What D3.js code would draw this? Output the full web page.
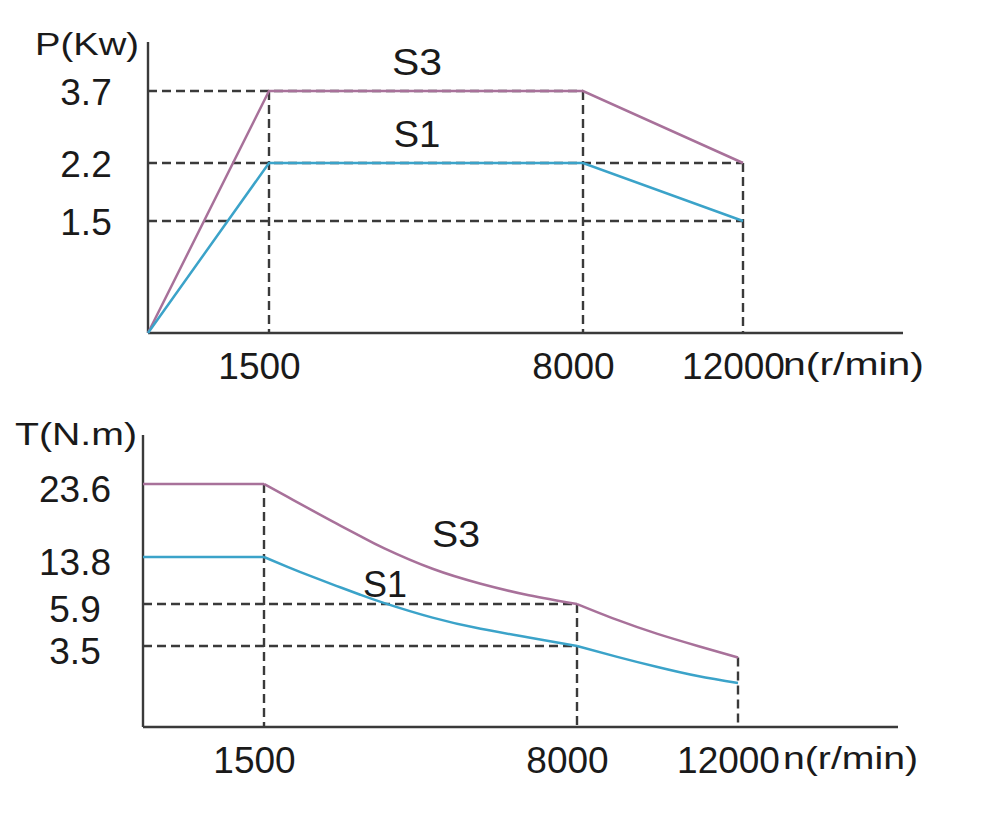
<!DOCTYPE html>
<html>
<head>
<meta charset="utf-8">
<script src="https://cdn.jsdelivr.net/npm/d3@7/dist/d3.min.js"></script>
<style>
  html, body { margin: 0; padding: 0; background: #fff; }
  svg { display: block; font-family: "Liberation Sans", Arial, sans-serif; }
</style>
</head>
<body>
<svg id="chart" width="1000" height="835"></svg>
<script>
// ---------- data ----------
const speedBreaks = [0, 1500, 8000, 12000];          // r/min (schematic axis breakpoints)
const speedTicks = [1500, 8000, 12000];
const powerTicks = [1.5, 2.2, 3.7];                  // kW
const torqueTicks = [3.5, 5.9, 13.8, 23.6];          // N.m

const powerSpeed = [0, 1500, 8000, 12000];
const powerS3 = [0, 3.7, 3.7, 2.2];
const powerS1 = [0, 2.2, 2.2, 1.5];

const torqueSpeed = [0, 1500, 2000, 2500, 3000, 3500, 4000, 5000, 6000, 7000, 8000, 9000, 10000, 11000, 12000];
const torqueS3 = [23.6, 23.6, 21.83, 20.06, 18.31, 16.61, 14.96, 11.82, 9.31, 7.36, 5.9, 4.99, 4.19, 3.5, 3.0];
const torqueS1 = [13.8, 13.8, 12.10, 10.49, 8.96, 7.46, 6.05, 5.12, 4.48, 3.99, 3.5, 3.03, 2.59, 2.20, 1.9];

const seriesNames = ["S3", "S1"];

// ---------- styles ----------
const C_S3 = "#a8719a";
const C_S1 = "#3ba3c9";
const C_AX = "#3a3a3a";
const DASH = "9,5";

const svg = d3.select("#chart");

function drawPanel(cfg) {
  const g = svg.append("g");
  const x = d3.scaleLinear().domain(speedBreaks).range(cfg.xRange);
  const y = d3.scaleLinear().domain(cfg.yDomain).range(cfg.yRange);
  const x0 = x(0), y0 = y(0);

  // dashed guides
  const dash = g.append("g").attr("stroke", C_AX).attr("stroke-width", 2.4)
    .attr("stroke-dasharray", DASH).attr("fill", "none");
  cfg.hGuides.forEach(([v, toX]) => {
    dash.append("line").attr("x1", x0).attr("x2", x(toX)).attr("y1", y(v)).attr("y2", y(v));
  });
  cfg.vGuides.forEach(([s, fromV]) => {
    dash.append("line").attr("x1", x(s)).attr("x2", x(s)).attr("y1", y(fromV)).attr("y2", y0);
  });

  // axes lines
  g.append("line").attr("x1", x0).attr("x2", x0).attr("y1", cfg.yTop).attr("y2", y0)
    .attr("stroke", C_AX).attr("stroke-width", 2.4);
  g.append("line").attr("x1", x0).attr("x2", cfg.xEnd).attr("y1", y0).attr("y2", y0)
    .attr("stroke", C_AX).attr("stroke-width", 2.4);

  // x tick labels via d3 axis
  const xa = g.append("g").attr("transform", `translate(0,${y0})`)
    .call(d3.axisBottom(x).tickValues(speedTicks).tickSize(0).tickFormat(d3.format("d")));
  xa.select(".domain").remove();
  xa.selectAll("text").attr("font-size", 37).attr("fill", "#1a1a1a")
    .attr("font-family", "Liberation Sans, Arial, sans-serif")
    .attr("dx", -10).attr("dy", 0).attr("y", 46).attr("dominant-baseline", "auto");

  // y tick labels via d3 axis
  const ya = g.append("g").attr("transform", `translate(${x0},0)`)
    .call(d3.axisLeft(y).tickValues(cfg.yTicks).tickSize(0).tickFormat(d3.format(".1f")));
  ya.select(".domain").remove();
  ya.selectAll("text").attr("font-size", 37).attr("fill", "#1a1a1a")
    .attr("font-family", "Liberation Sans, Arial, sans-serif")
    .attr("text-anchor", "middle").attr("x", cfg.yLabelX - x0).attr("dy", 0)
    .attr("y", cfg.yLabelDy).attr("dominant-baseline", "central");

  // axis titles
  g.append("text").attr("x", cfg.yTitle[0]).attr("y", cfg.yTitle[1])
    .attr("font-size", 32).attr("fill", "#1a1a1a")
    .attr("textLength", cfg.yTitle[2]).attr("lengthAdjust", "spacingAndGlyphs")
    .text(cfg.yTitleText);
  g.append("text").attr("x", cfg.xTitle[0]).attr("y", cfg.xTitle[1])
    .attr("font-size", 32).attr("fill", "#1a1a1a")
    .attr("textLength", cfg.xTitle[2]).attr("lengthAdjust", "spacingAndGlyphs")
    .text("n(r/min)");

  // series lines
  cfg.series.forEach(s => {
    const pts = cfg.xs.map((v, i) => [v, s.values[i]]);
    const lin = d3.line().x(d => x(d[0])).y(d => y(d[1]));
    if (cfg.curved) {
      const smooth = d3.line().x(d => x(d[0])).y(d => y(d[1])).curve(d3.curveNatural);
      const i1500 = cfg.xs.indexOf(1500), i8000 = cfg.xs.indexOf(8000);
      const parts = [
        lin(pts.slice(0, i1500 + 1)),
        smooth(pts.slice(i1500, i8000 + 1)),
        smooth(pts.slice(i8000))
      ];
      parts.forEach(d => g.append("path").attr("d", d).attr("fill", "none")
        .attr("stroke", s.color).attr("stroke-width", 2.5).attr("stroke-linejoin", "round"));
    } else {
      g.append("path").attr("d", lin(pts)).attr("fill", "none")
        .attr("stroke", s.color).attr("stroke-width", 2.5);
    }
  });

  // series labels
  cfg.series.forEach(s => {
    g.append("text").attr("x", s.label[0]).attr("y", s.label[1])
      .attr("text-anchor", "middle").attr("font-size", 37).attr("fill", "#1a1a1a")
      .attr("textLength", s.label[2]).attr("lengthAdjust", "spacingAndGlyphs")
      .text(s.name);
  });
}

// ---------- top: power ----------
drawPanel({
  xRange: [148, 269, 583, 743], xEnd: 903,
  yDomain: [0, 1.5, 2.2, 3.7], yRange: [333, 221, 163, 91], yTop: 42,
  yTicks: powerTicks, yLabelX: 86, yLabelDy: 1,
  hGuides: [[3.7, 8000], [2.2, 12000], [1.5, 12000]],
  vGuides: [[1500, 3.7], [8000, 3.7], [12000, 2.2]],
  yTitle: [35, 55, 104], yTitleText: "P(Kw)",
  xTitle: [783, 375, 141],
  xs: powerSpeed, curved: false,
  series: [
    { name: seriesNames[0], values: powerS3, color: C_S3, label: [417, 75, 50] },
    { name: seriesNames[1], values: powerS1, color: C_S1, label: [417, 147, 47] }
  ]
});

// ---------- bottom: torque ----------
drawPanel({
  xRange: [143, 264, 577, 738], xEnd: 898,
  yDomain: [0, 3.5, 5.9, 13.8, 23.6], yRange: [727, 646, 604, 557, 484], yTop: 435,
  yTicks: torqueTicks, yLabelX: 75, yLabelDy: 5,
  hGuides: [[5.9, 8000], [3.5, 8000]],
  vGuides: [[1500, 23.6], [8000, 5.9], [12000, 3.0]],
  yTitle: [15, 445, 122], yTitleText: "T(N.m)",
  xTitle: [783, 769, 135],
  xs: torqueSpeed, curved: true,
  series: [
    { name: seriesNames[0], values: torqueS3, color: C_S3, label: [456, 547, 48] },
    { name: seriesNames[1], values: torqueS1, color: C_S1, label: [385, 597, 44] }
  ]
});
</script>
</body>
</html>
